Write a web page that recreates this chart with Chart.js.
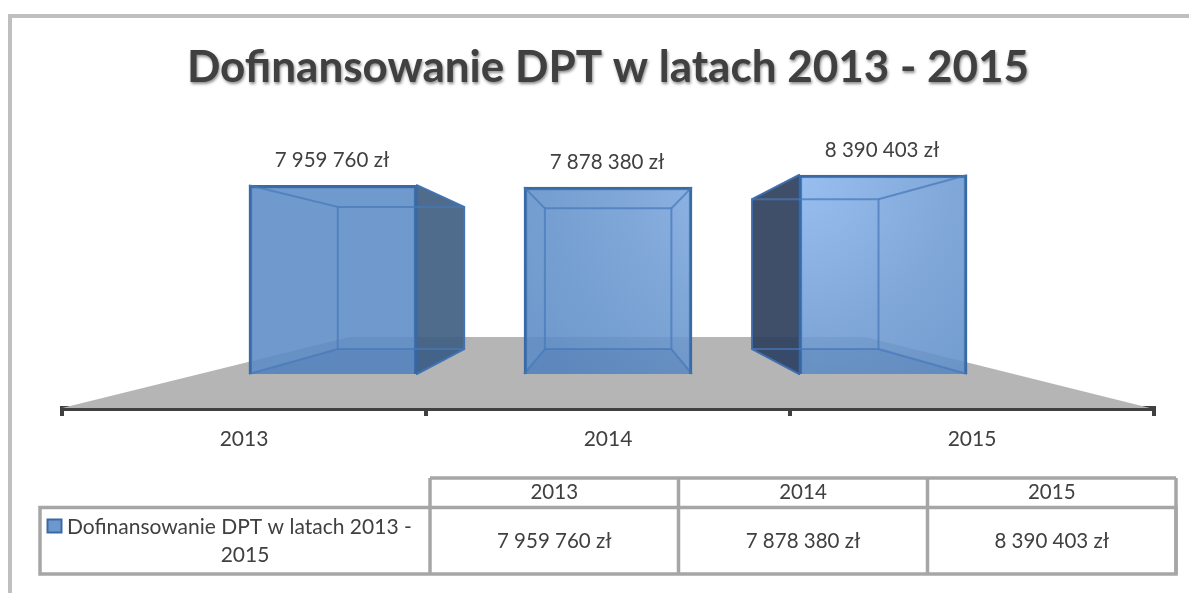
<!DOCTYPE html>
<html><head><meta charset="utf-8">
<style>html,body{margin:0;padding:0;background:#fff}#w{width:1189px;height:593px;position:relative}</style>
<script src="https://cdn.jsdelivr.net/npm/chart.js@4"></script></head>
<body><div id="w"><canvas id="c" width="1189" height="593"></canvas></div>
<script>
const categories = ['2013','2014','2015'];
const seriesName = 'Dofinansowanie DPT w latach 2013 - 2015';
const seriesValues = [7959760, 7878380, 8390403];
const valueLabels = ['7 959 760 zł','7 878 380 zł','8 390 403 zł'];
const chartTitle = 'Dofinansowanie DPT w latach 2013 - 2015';
const barPositions = [0,1,2];

const FONT = 'Lato';
const TXT = '#404040';
const GRID = '#a6a6a6';
const LABEL_SIZE = 20.5;
const DEPTH = 0.753, VX = 608.5, VY = 273, FLOOR_DEPTH = 0.474;
const back = (x,y,s=DEPTH)=>[VX+(x-VX)*s, VY+(y-VY)*s];
function poly(ctx,pts,fill,stroke,lw){
  ctx.beginPath();pts.forEach((p,i)=>i?ctx.lineTo(p[0],p[1]):ctx.moveTo(p[0],p[1]));ctx.closePath();
  if(fill){ctx.fillStyle=fill;ctx.fill();}
  if(stroke){ctx.strokeStyle=stroke;ctx.lineWidth=lw||1;ctx.stroke();}
}
function seg(ctx,a,b,c,w){ctx.beginPath();ctx.moveTo(a[0],a[1]);ctx.lineTo(b[0],b[1]);ctx.strokeStyle=c;ctx.lineWidth=w;ctx.stroke();}

const scene = {
  id:'scene',
  beforeDraw(chart){
    const t=chart.titleBlock;
    if(t && !t._wrapped){const d=t.draw;t._wrapped=true;t.draw=function(){const c=this.ctx;c.save();c.shadowColor='rgba(0,0,0,.45)';c.shadowBlur=3;c.shadowOffsetX=1;c.shadowOffsetY=2;d.call(this);c.restore();};}
    const ctx=chart.ctx;
    ctx.save();
    // outer frame: left and top edges only, running off the page
    ctx.strokeStyle='#bfbfbf';ctx.lineWidth=4;
    ctx.beginPath();ctx.moveTo(10,593);ctx.lineTo(10,16);ctx.lineTo(1189,16);ctx.stroke();
    ctx.restore();
  },
  beforeDatasetsDraw(chart){
    const ctx=chart.ctx,a=chart.chartArea,b=a.bottom;
    ctx.save();
    poly(ctx,[[a.left,b],[a.right-4,b],back(a.right-4,b,FLOOR_DEPTH),back(a.left,b,FLOOR_DEPTH)],'#b5b5b5');
    chart.getDatasetMeta(0).data.forEach(el=>{
      const l=el.x-el.width/2,r=el.x+el.width/2;
      const bl=back(l,el.y),blb=back(l,el.base),br=back(r,el.y),brb=back(r,el.base);
      if(br[0]>r) poly(ctx,[[r,el.y],br,brb,[r,el.base]],'rgba(64,96,130,.92)','#3a6aa5',1.5);
      if(bl[0]<l) poly(ctx,[[l,el.y],bl,blb,[l,el.base]],'rgba(48,64,92,.92)','#2f5788',1.5);
    });
    ctx.restore();
  },
  afterDatasetsDraw(chart){
    const ctx=chart.ctx;
    ctx.save();
    chart.getDatasetMeta(0).data.forEach((el,i)=>{
      const l=el.x-el.width/2,r=el.x+el.width/2,t=el.y,bt=el.base;
      const tl=back(l,t),tr=back(r,t),bl=back(l,bt),br=back(r,bt);
      poly(ctx,[[l,bt],[r,bt],br,bl],'rgba(45,85,150,.14)');
      const e='rgba(70,120,185,.7)';
      poly(ctx,[tl,tr,br,bl],null,e,2);
      seg(ctx,[l,t],tl,e,2);seg(ctx,[r,t],tr,e,2);seg(ctx,[l,bt],bl,e,2);seg(ctx,[r,bt],br,e,2);
      ctx.fillStyle=TXT;ctx.font=LABEL_SIZE+'px '+FONT;ctx.textAlign='center';ctx.textBaseline='middle';
      ctx.fillText(valueLabels[i],el.x-1,el.y-25);
    });
    ctx.restore();
  },
  afterDraw(chart){
    const ctx=chart.ctx;
    ctx.save();
    const xs=[430,678.5,927.5,1176], top=478,m=507.5,b=574,left=40;
    ctx.strokeStyle=GRID;ctx.lineWidth=3.5;
    ctx.strokeRect(left,m,1176-left,b-m);
    ctx.beginPath();ctx.moveTo(xs[0],top);ctx.lineTo(xs[3],top);
    xs.forEach(x=>{ctx.moveTo(x,top);ctx.lineTo(x,b);});
    ctx.stroke();
    ctx.fillStyle=TXT;ctx.textBaseline='middle';ctx.textAlign='center';ctx.font=LABEL_SIZE+'px '+FONT;
    categories.forEach((c,i)=>{const cx=(xs[i]+xs[i+1])/2;
      ctx.fillText(c,cx,492);ctx.fillText(valueLabels[i],cx,541);});
    // legend key + wrapped series name
    ctx.fillStyle='#6c98cc';ctx.strokeStyle='#3a6aa5';ctx.lineWidth=2;
    ctx.fillRect(47.5,519.5,14,13);ctx.strokeRect(47.5,519.5,14,13);
    ctx.fillStyle=TXT;
    const words=seriesName.split(' '),last=words.pop();
    ctx.font='21px '+FONT;
    ctx.textAlign='left';ctx.fillText(words.join(' '),67,527);
    ctx.textAlign='center';ctx.fillText(last,245,555);
    ctx.restore();
  }
};

new Chart(document.getElementById('c'),{
  type:'bar',
  data:{labels:categories,datasets:[{
    label:seriesName,
    xAxisID:'xb',
    data:barPositions.map((p,i)=>({x:p,y:seriesValues[i]})),
    barThickness:168,
    backgroundColor(c){
      const g=c.chart.ctx.createRadialGradient(790,170,0,790,170,300);
      g.addColorStop(0,'rgba(140,184,240,.88)');
      g.addColorStop(.55,'rgba(110,155,210,.88)');
      g.addColorStop(1,'rgba(92,140,198,.88)');
      return g;
    },
    borderColor:'#3a6aa5',borderWidth:3
  }]},
  options:{
    responsive:false,animation:false,
    layout:{padding:{left:62,right:35,top:0,bottom:135}},
    plugins:{
      legend:{display:false},tooltip:{enabled:false},
      title:{display:true,text:chartTitle,color:'#404040',
        font:{family:FONT,size:44,weight:'bold',lineHeight:1.2},
        padding:{top:41,bottom:16.2},
        align:'center'}
    },
    scales:{
      x:{type:'category',position:'bottom',offset:true,
        grid:{offset:true,drawOnChartArea:false,drawTicks:true,tickLength:8,color:'#404040',lineWidth:4},
        border:{display:true,color:'#404040',width:5},
        ticks:{color:TXT,font:{family:FONT,size:21},padding:11,maxRotation:0},
        afterFit(s){s.height=50;}},
      xb:{type:'linear',display:false,min:-0.985,max:2.985,offset:false},
      y:{display:false,min:-1433500,max:11131000,grid:{display:false}}
    }
  },
  plugins:[scene]
});
</script></body></html>
